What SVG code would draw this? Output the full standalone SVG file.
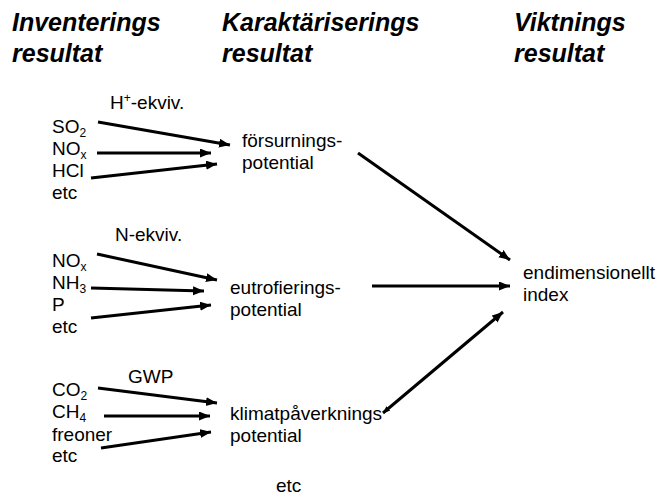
<svg xmlns="http://www.w3.org/2000/svg" width="658" height="504" viewBox="0 0 658 504">
<defs>
<style>
.h{font-family:"Liberation Sans",Arial,sans-serif;font-size:25px;font-weight:bold;font-style:italic;fill:#000}
.t{font-family:"Liberation Sans",Arial,sans-serif;font-size:19px;fill:#000}
.s{font-size:12px}
.c line{stroke:#000;stroke-width:3;marker-end:url(#ah)}
</style>
<marker id="ah" markerUnits="userSpaceOnUse" markerWidth="12" markerHeight="10" refX="11" refY="4.5" orient="auto"><path d="M0,0 L11,4.5 L0,9 z" fill="#000"/></marker>
<marker id="sah" markerUnits="userSpaceOnUse" markerWidth="8" markerHeight="7" refX="7" refY="3" orient="auto-start-reverse"><path d="M0,0 L7,3 L0,6 z" fill="#000"/></marker>
</defs>
<rect width="658" height="504" fill="#fff"/>
<g id="headings">
<text class="h" x="12" y="31">Inventerings</text>
<text class="h" x="12" y="62">resultat</text>
<text class="h" x="222" y="31">Karaktäriserings</text>
<text class="h" x="222" y="62">resultat</text>
<text class="h" x="514" y="31">Viktnings</text>
<text class="h" x="514" y="62">resultat</text>
</g>
<g id="group1">
<text class="t" x="110" y="109">H<tspan class="s" dy="-7">+</tspan><tspan dy="7">-ekviv.</tspan></text>
<text class="t" x="52" y="133">SO<tspan class="s" dy="4">2</tspan></text>
<text class="t" x="52" y="155">NO<tspan class="s" dy="4">x</tspan></text>
<text class="t" x="52" y="177">HCl</text>
<text class="t" x="52" y="199">etc</text>
</g>
<g id="forsurning">
<text class="t" x="242" y="147">försurnings-</text>
<text class="t" x="242" y="169">potential</text>
</g>
<g id="group2">
<text class="t" x="115" y="241">N-ekviv.</text>
<text class="t" x="52" y="267">NO<tspan class="s" dy="4">x</tspan></text>
<text class="t" x="52" y="289">NH<tspan class="s" dy="4">3</tspan></text>
<text class="t" x="52" y="311">P</text>
<text class="t" x="52" y="333">etc</text>
</g>
<g id="eutrofiering">
<text class="t" x="230" y="294">eutrofierings-</text>
<text class="t" x="230" y="316">potential</text>
</g>
<g id="group3">
<text class="t" x="128" y="383">GWP</text>
<text class="t" x="52" y="396">CO<tspan class="s" dy="4">2</tspan></text>
<text class="t" x="52" y="418">CH<tspan class="s" dy="4">4</tspan></text>
<text class="t" x="52" y="441">freoner</text>
<text class="t" x="52" y="462">etc</text>
</g>
<g id="klimat">
<text class="t" x="230" y="420">klimatpåverknings</text>
<text class="t" x="230" y="442">potential</text>
</g>
<g id="index">
<text class="t" x="523" y="279">endimensionellt</text>
<text class="t" x="523" y="301">index</text>
</g>
<g id="etc-bottom">
<text class="t" x="276" y="492">etc</text>
</g>
<g id="connectors" class="c">
<line x1="98" y1="122" x2="230" y2="145"/>
<line x1="97" y1="153" x2="211" y2="153"/>
<line x1="91" y1="178" x2="217" y2="164"/>
<line x1="97" y1="254" x2="217" y2="280"/>
<line x1="91" y1="288" x2="204" y2="291"/>
<line x1="91" y1="318" x2="211" y2="305"/>
<line x1="98" y1="388" x2="217" y2="403"/>
<line x1="104" y1="416" x2="210" y2="416"/>
<line x1="101" y1="448" x2="211" y2="432"/>
<line x1="358" y1="153" x2="510" y2="260"/>
<line x1="372" y1="286" x2="510" y2="286"/>
<line x1="383" y1="413" x2="503" y2="312" style="marker-start:url(#sah)"/>
</g>
</svg>
